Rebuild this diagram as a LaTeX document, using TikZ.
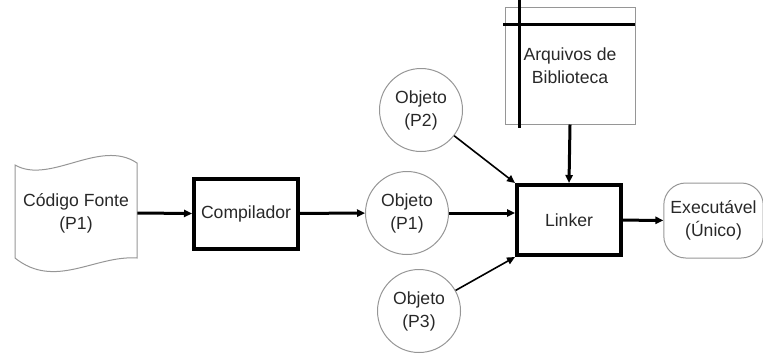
\documentclass[tikz,border=0pt]{standalone}
\usepackage{fontspec}
\setmainfont{Liberation Sans}
\usetikzlibrary{arrows.meta}
\definecolor{ColEdge}{RGB}{150,150,150}
\definecolor{ColText}{RGB}{40,40,40}

\begin{document}
\begin{tikzpicture}[
  x=0.5pt, y=-0.5pt,
  >={Triangle[length=4pt,width=3.6pt]},
  line cap=butt,
  line join=miter,
  every node/.style={font=\fontsize{8.8}{11.5}\selectfont, text=ColText, align=center},
  bigbox/.style={draw, line width=2pt, minimum width=52pt, minimum height=35pt},
  objcircle/.style={draw=ColEdge, line width=0.5pt, circle, minimum size=41.5pt, inner sep=0pt},
  thickarrow/.style={->, line width=1.5pt},
  thinarrow/.style={->, line width=0.8pt}
]
  \useasboundingbox (0,0) rectangle (763,354);

  % Source file (document shape)
  \node[minimum width=61pt, minimum height=45pt, inner sep=0pt] (fonte) at (76,213)
    {C\'odigo Fonte\\(P1)};
  \draw[ColEdge, line width=0.5pt]
    (15,165) .. controls (50,185) and (100,138) .. (137,163)
    -- (137,258) .. controls (95,255) and (55,290) .. (15,258) -- cycle;

  % Compiler and linker
  \node[bigbox] (comp) at (246,213.5) {Compilador};
  \node[bigbox] (linker) at (569,220) {Linker};

  % Object files
  \node[objcircle] (p2) at (421,110) {Objeto\\(P2)};
  \node[objcircle] (p1) at (407,213) {Objeto\\(P1)};
  \node[objcircle] (p3) at (419,311) {Objeto\\(P3)};

  % Library box with its cross lines
  \node[draw=ColEdge, line width=0.5pt, minimum width=65pt, minimum height=58.5pt, inner sep=0pt]
    (lib) at (570,65.5) {Arquivos de\\Biblioteca};
  \draw[line width=1.5pt] (519,0) -- (519,128);
  \draw[line width=1.5pt] (503,24) -- (635,24);

  % Executable
  \node[draw=ColEdge, line width=0.5pt, rounded corners=11pt,
        minimum width=48.5pt, minimum height=37.5pt] (exe) at (713.5,220.5) {Execut\'avel\\(\'Unico)};

  % Flow
  \draw[thickarrow] (fonte.east) -- (comp.west);
  \draw[thickarrow] (comp) -- (p1);
  \draw[thickarrow] (p1) -- (p1 -| linker.west);
  \draw[thinarrow] (p2) -- (linker.north west);
  \draw[thinarrow] (p3) -- (linker.south west);
  \draw[thickarrow] (lib.south) -- (linker.north);
  \draw[thickarrow] (linker) -- (exe);
\end{tikzpicture}
\end{document}
